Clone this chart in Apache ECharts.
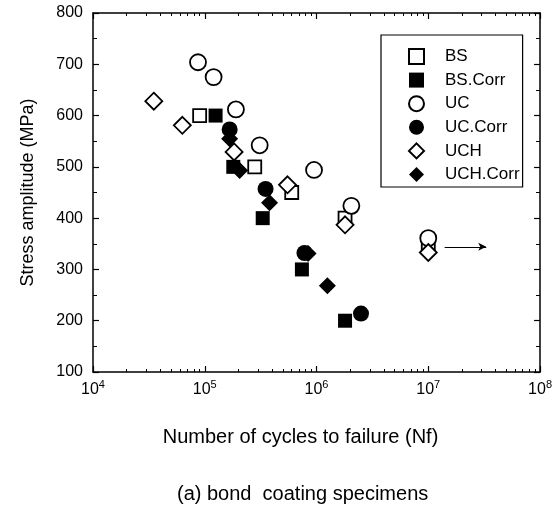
<!DOCTYPE html>
<html>
  <head>
    <meta charset="utf-8" />
    <title>S-N bond coating</title>
    <script src="https://cdn.jsdelivr.net/npm/echarts@6/dist/echarts.min.js"></script>
  </head>
  <body style="margin:0;background:#fff;">
    <div id="main" style="width: 555px;height:510px;"></div>
    <script type="text/javascript">
        // cycles to failure (Nf) and stress amplitude (MPa)
        var bsN = [9.0e4, 2.8e5, 6.0e5, 1.8e6, 1.0e7];
        var bsS = [600, 500, 450, 400, 346];
        var bsCorrN = [1.25e5, 1.8e5, 3.3e5, 7.4e5, 1.8e6];
        var bsCorrS = [600, 500, 400, 300, 200];
        var ucN = [8.7e4, 1.2e5, 1.9e5, 3.1e5, 9.5e5, 2.05e6, 1.0e7];
        var ucS = [704, 675, 612, 542, 494, 424, 361];
        var ucCorrN = [1.67e5, 3.5e5, 7.8e5, 2.5e6];
        var ucCorrS = [573, 457, 332, 214];
        var uchN = [3.5e4, 6.3e4, 1.83e5, 5.5e5, 1.8e6, 1.0e7];
        var uchS = [628, 581, 529, 465, 387, 333];
        var uchCorrN = [1.67e5, 2.05e5, 3.8e5, 8.4e5, 1.25e6];
        var uchCorrS = [555, 493, 430, 331, 268];
        // run-out arrow
        var arrowN = [1.4e7, 3.3e7];
        var arrowS = 344;

        var font = 'Liberation Sans, Arial, sans-serif';

        function pairs(xs, ys) {
            var out = [];
            for (var i = 0; i < xs.length; i++) out.push([xs[i], ys[i]]);
            return out;
        }

        var open = { color: '#fff', borderColor: '#000', borderWidth: 1.8, opacity: 1 };
        var filled = { color: '#000', borderColor: '#000', borderWidth: 0, opacity: 1 };

        var myChart = echarts.init(document.getElementById('main'));

        var tickX = { show: true, inside: true, length: 6, lineStyle: { color: '#000', width: 1.2 } };
        var minorX = { show: true, splitNumber: 9, length: 3, lineStyle: { color: '#000', width: 1 } };
        var tickY = { show: true, inside: true, length: 6, lineStyle: { color: '#000', width: 1.2 } };
        var minorY = { show: true, splitNumber: 2, length: 4, lineStyle: { color: '#000', width: 1 } };
        var line = { show: true, lineStyle: { color: '#000', width: 1.5 } };

        var option = {
            backgroundColor: '#fff',
            animation: false,
            title: {
                text: '(a) bond  coating specimens',
                left: 172,
                top: 479,
                textStyle: { fontFamily: font, fontSize: 20, fontWeight: 'normal', color: '#000' }
            },
            grid: { left: 93, right: 12, top: 13, bottom: 138 },
            legend: {
                orient: 'vertical',
                left: 381,
                top: 35,
                padding: [13, 3, 4, 27],
                itemWidth: 15,
                itemHeight: 15,
                itemGap: 6.6,
                borderColor: '#000',
                borderWidth: 1.2,
                textStyle: { fontFamily: font, fontSize: 17, color: '#000', lineHeight: 15, padding: [0, 0, 0, 16] },
                data: ['BS', 'BS.Corr', 'UC', 'UC.Corr', 'UCH', 'UCH.Corr']
            },
            xAxis: [{
                type: 'log',
                logBase: 10,
                min: 1e4,
                max: 1e8,
                name: 'Number of cycles to failure (Nf)',
                nameLocation: 'middle',
                nameGap: 55,
                nameTextStyle: { fontFamily: font, fontSize: 20, color: '#000', padding: [0, 32, 0, 0] },
                axisLine: line,
                axisTick: tickX,
                minorTick: minorX,
                splitLine: { show: false },
                axisLabel: {
                    margin: 7,
                    formatter: function (v) {
                        return '{b|10}{s|' + Math.round(Math.log10(v)) + '}';
                    },
                    rich: {
                        b: { fontFamily: font, fontSize: 16, color: '#000', lineHeight: 19, verticalAlign: 'bottom' },
                        s: { fontFamily: font, fontSize: 11, color: '#000', lineHeight: 19, verticalAlign: 'top' }
                    }
                }
            }, {
                type: 'log',
                logBase: 10,
                position: 'top',
                min: 1e4,
                max: 1e8,
                axisLine: line,
                axisTick: tickX,
                minorTick: minorX,
                splitLine: { show: false },
                axisLabel: { show: false }
            }],
            yAxis: [{
                type: 'value',
                min: 100,
                max: 800,
                interval: 100,
                name: 'Stress amplitude (MPa)',
                nameLocation: 'middle',
                nameGap: 56,
                nameTextStyle: { fontFamily: font, fontSize: 18, color: '#000' },
                axisLine: line,
                axisTick: tickY,
                minorTick: minorY,
                splitLine: { show: false },
                axisLabel: { margin: 10, fontFamily: font, fontSize: 16, color: '#000' }
            }, {
                type: 'value',
                position: 'right',
                min: 100,
                max: 800,
                interval: 100,
                axisLine: line,
                axisTick: tickY,
                minorTick: minorY,
                splitLine: { show: false },
                axisLabel: { show: false }
            }],
            series: [{
                name: 'BS', type: 'scatter', symbol: 'rect', symbolSize: 13,
                itemStyle: open, data: pairs(bsN, bsS),
                markLine: {
                    silent: true,
                    symbolSize: [6, 8],
                    label: { show: false },
                    lineStyle: { color: '#000', width: 1, type: 'solid' },
                    data: [[
                        { coord: [arrowN[0], arrowS], symbol: 'none' },
                        { coord: [arrowN[1], arrowS], symbol: 'arrow' }
                    ]]
                }
            }, {
                name: 'BS.Corr', type: 'scatter', symbol: 'rect', symbolSize: 14,
                itemStyle: filled, data: pairs(bsCorrN, bsCorrS)
            }, {
                name: 'UC', type: 'scatter', symbol: 'circle', symbolSize: 16,
                itemStyle: open, data: pairs(ucN, ucS)
            }, {
                name: 'UC.Corr', type: 'scatter', symbol: 'circle', symbolSize: 16,
                itemStyle: filled, data: pairs(ucCorrN, ucCorrS)
            }, {
                name: 'UCH', type: 'scatter', symbol: 'diamond', symbolSize: 17,
                itemStyle: open, data: pairs(uchN, uchS)
            }, {
                name: 'UCH.Corr', type: 'scatter', symbol: 'diamond', symbolSize: 17,
                itemStyle: filled, data: pairs(uchCorrN, uchCorrS)
            }]
        };

        myChart.setOption(option);
    </script>
  </body>
</html>
